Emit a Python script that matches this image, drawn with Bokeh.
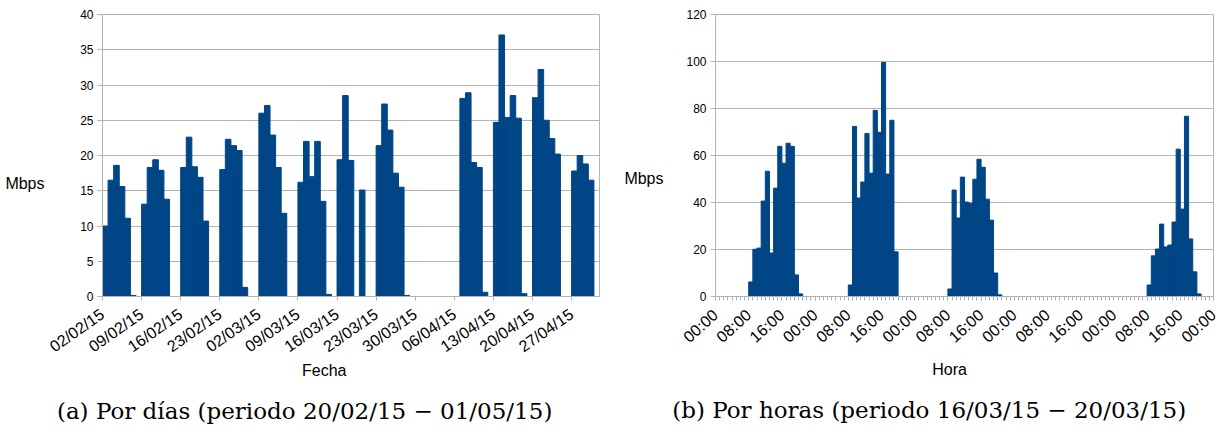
import math
from bokeh.plotting import figure
from bokeh.layouts import row
from bokeh.models import FixedTicker, LinearAxis
from bokeh.embed import file_html
from bokeh.resources import INLINE

# ---------------- data ----------------
day_labels = ["02/02/15", "09/02/15", "16/02/15", "23/02/15", "02/03/15", "09/03/15",
              "16/03/15", "23/03/15", "30/03/15", "06/04/15", "13/04/15", "20/04/15",
              "27/04/15"]
day_mbps = [10.0, 16.5, 18.6, 15.6, 11.1, 0.15, 0,
            13.1, 18.3, 19.4, 17.9, 13.8, 0, 0,
            18.3, 22.6, 18.4, 16.9, 10.7, 0, 0,
            18.0, 22.3, 21.4, 20.7, 1.3, 0, 0,
            26.0, 27.1, 22.9, 18.3, 11.8, 0, 0,
            16.2, 22.0, 17.0, 22.0, 13.5, 0.3, 0,
            19.4, 28.5, 19.3, 0, 15.1, 0, 0,
            21.4, 27.3, 23.6, 17.5, 15.5, 0.15, 0,
            0, 0, 0, 0, 0, 0, 0,
            0, 28.1, 28.9, 19.0, 18.3, 0.6, 0,
            24.7, 37.1, 25.4, 28.5, 25.3, 0.4, 0,
            28.2, 32.2, 25.0, 22.4, 20.2, 0, 0,
            17.8, 20.0, 18.8, 16.5, 0]

hour_labels = ["00:00", "08:00", "16:00", "00:00", "08:00", "16:00", "00:00", "08:00",
               "16:00", "00:00", "08:00", "16:00", "00:00", "08:00", "16:00", "00:00"]
hour_mbps = [0, 0, 0, 0, 0, 0, 0, 0,
             6.2, 20.1, 20.6, 40.6, 53.3, 18.5, 46.1, 63.9,
             56.7, 65.2, 63.9, 9.2, 1.1, 0, 0, 0,
             0, 0, 0, 0, 0, 0, 0, 0,
             4.9, 72.4, 41.9, 48.7, 69.4, 52.5, 79.2, 69.9,
             99.6, 52.1, 75.0, 19.0, 0, 0, 0, 0,
             0, 0, 0, 0, 0, 0, 0, 0,
             3.2, 45.3, 33.4, 50.8, 40.2, 39.7, 49.9, 58.4,
             55.0, 41.4, 32.5, 10.0, 0.7, 0, 0, 0,
             0, 0, 0, 0, 0, 0, 0, 0,
             0, 0, 0, 0, 0, 0, 0, 0,
             0, 0, 0, 0, 0, 0, 0, 0,
             0, 0, 0, 0, 0, 0, 0, 0,
             4.9, 17.3, 20.2, 30.8, 21.1, 21.9, 31.7, 62.7,
             37.2, 76.7, 24.5, 10.5, 1.1, 0, 0, 0]

y_label = "Mbps"
x_label_a = "Fecha"
x_label_b = "Hora"
caption_a = "(a) Por días (periodo 20/02/15 − 01/05/15)"
caption_b = "(b) Por horas (periodo 16/03/15 − 20/03/15)"

# ---------------- style ----------------
BLUE = "#004586"
GRID = "#b3b3b3"
SANS = "Liberation Sans"
SERIF = "DejaVu Serif"


def base_fig(width, n, ymax, ystep, border_left, border_right):
    p = figure(width=width, height=428, x_range=(0, n), y_range=(0, ymax),
               output_backend="svg", toolbar_location=None, tools="",
               min_border_left=border_left, min_border_right=border_right,
               min_border_top=14, min_border_bottom=132)
    p.background_fill_color = "white"
    p.border_fill_color = "white"
    p.outline_line_color = GRID
    p.xgrid.visible = False
    p.ygrid.grid_line_color = GRID
    p.ygrid.grid_line_width = 1
    p.yaxis.ticker = FixedTicker(ticks=list(range(0, ymax + 1, ystep)))
    p.yaxis.axis_line_color = GRID
    p.yaxis.major_tick_line_color = GRID
    p.yaxis.major_tick_out = 5
    p.yaxis.major_tick_in = 0
    p.yaxis.minor_tick_line_color = None
    p.yaxis.major_label_text_font = SANS
    p.yaxis.major_label_text_font_size = "12px"
    p.yaxis.major_label_text_color = "black"
    p.yaxis.major_label_standoff = 4
    p.xaxis.axis_line_color = GRID
    p.xaxis.major_tick_line_color = GRID
    p.xaxis.major_tick_out = 4
    p.xaxis.major_tick_in = 0
    p.xaxis.major_label_text_font = SANS
    p.xaxis.major_label_text_font_size = "16px"
    p.xaxis.major_label_text_color = "black"
    p.xaxis.major_label_standoff = 12
    return p


def text_axis(p, side, pos, text, font, size, standoff):
    ax = LinearAxis(ticker=FixedTicker(ticks=[pos]), major_label_overrides={pos: text},
                    axis_line_color=None, major_tick_line_color=None,
                    minor_tick_line_color=None, major_label_standoff=standoff,
                    major_label_text_font=font, major_label_text_font_size=size,
                    major_label_text_color="black")
    p.add_layout(ax, side)


# ---------------- left chart (days) ----------------
p1 = base_fig(612, len(day_mbps), 40, 5, 102, 13)
x_days = [i + 0.5 for i in range(len(day_mbps))]
p1.vbar(x=x_days, top=day_mbps, bottom=0, width=1.0,
        fill_color=BLUE, line_color=BLUE, line_width=1)
tick_pos1 = [7 * i for i in range(len(day_labels))]
p1.xaxis.ticker = FixedTicker(ticks=tick_pos1)
p1.xaxis.minor_tick_line_color = None
p1.xaxis.major_label_overrides = {t: lab for t, lab in zip(tick_pos1, day_labels)}
p1.xaxis.major_label_orientation = math.radians(35)
text_axis(p1, "left", 16.0, y_label, SANS, "16px", 27)
text_axis(p1, "below", 39.7, x_label_a, SANS, "16px", -10)
text_axis(p1, "below", 36.2, caption_a, SERIF, "23px", 10)

# ---------------- right chart (hours) ----------------
p2 = base_fig(607, len(hour_mbps), 120, 20, 103, 6)
x_hours = [i + 0.5 for i in range(len(hour_mbps))]
p2.vbar(x=x_hours, top=hour_mbps, bottom=0, width=1.0,
        fill_color=BLUE, line_color=BLUE, line_width=1)
tick_pos2 = [8 * i for i in range(len(hour_labels))]
p2.xaxis.ticker = FixedTicker(ticks=tick_pos2, minor_ticks=list(range(len(hour_mbps) + 1)))
p2.xaxis.minor_tick_line_color = GRID
p2.xaxis.minor_tick_out = 4
p2.xaxis.minor_tick_in = 0
p2.xaxis.major_label_overrides = {t: lab for t, lab in zip(tick_pos2, hour_labels)}
p2.xaxis.major_label_orientation = math.radians(42)
text_axis(p2, "left", 50.2, y_label, SANS, "16px", 14)
text_axis(p2, "below", 56.4, x_label_b, SANS, "16px", 0)
text_axis(p2, "below", 51.5, caption_b, SERIF, "23px", 10)

layout = row(p1, p2)
open("out.html", "w").write(file_html(layout, INLINE))
